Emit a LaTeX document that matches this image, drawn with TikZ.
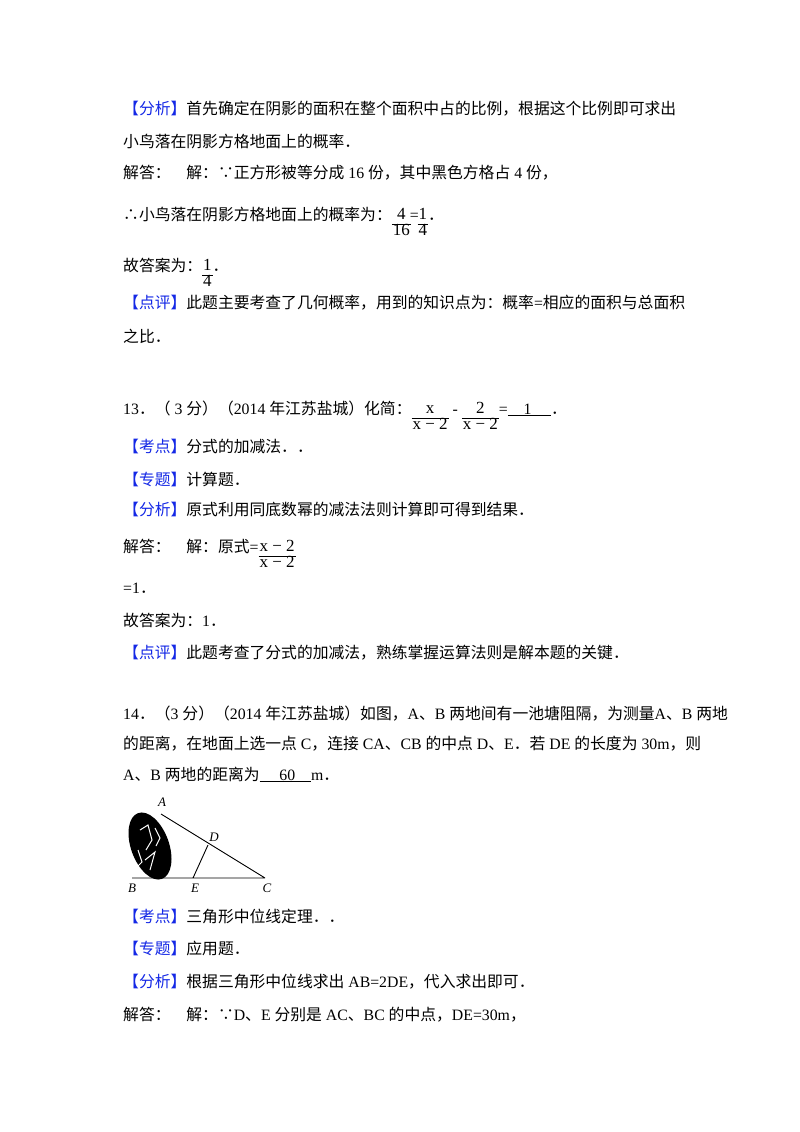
\documentclass[tikz,border=0pt]{standalone}
\usepackage{fontspec}
\setmainfont{Noto Sans CJK SC}
\newfontfamily\lat{Liberation Serif}
\definecolor{tagblue}{RGB}{20,40,230}
\newcommand{\tg}[1]{\textcolor{tagblue}{【#1】}}
\newcommand{\fr}[2]{\raisebox{-0.55em}{\fontsize{17}{18}\selectfont\lat\setlength{\tabcolsep}{1pt}\renewcommand{\arraystretch}{0.9}\begin{tabular}{c}#1\\\hline #2\end{tabular}}}
\begin{document}
\begin{tikzpicture}[x=1pt,y=-1pt,
  ln/.style={anchor=base west,inner sep=0pt,font=\fontsize{15.8}{16}\selectfont},
  lbl/.style={font=\lat\itshape\fontsize{13}{13}\selectfont,inner sep=0pt}]
\useasboundingbox[fill=white] (0,0) rectangle (800,1132);
\node[ln] (l1) at (123,114) {\tg{分析}首先确定在阴影的面积在整个面积中占的比例，根据这个比例即可求出};
\node[ln] (l2) at (123,147) {小鸟落在阴影方格地面上的概率．};
\node[ln] (l3) at (123,178) {解答：\quad 解：∵正方形被等分成{\lat\ 16 }份，其中黑色方格占{\lat\ 4 }份，};
\node[ln] (l4) at (123,220) {∴小鸟落在阴影方格地面上的概率为：\fr{4}{16}\hspace{-1pt}{\lat =}\hspace{-1pt}\fr{1}{4}．};
\node[ln] (l5) at (123,271) {故答案为：\fr{1}{4}．};
\node[ln] (l6) at (123,308) {\tg{点评}此题主要考查了几何概率，用到的知识点为：概率{\lat =}相应的面积与总面积};
\node[ln] (l7) at (123,342) {之比．};
\node[ln] (l8) at (123,414) {{\lat 13}．（{\lat\ 3 }分）（{\lat 2014 }年江苏盐城）化简：\fr{x}{x − 2}{\lat\ - }\fr{2}{x − 2}{\lat =}\underline{\lat\ \ \ \ 1\ \ \ \ \ }．};
\node[ln] (l9) at (123,452) {\tg{考点}分式的加减法．．};
\node[ln] (l10) at (123,485) {\tg{专题}计算题．};
\node[ln] (l11) at (123,515) {\tg{分析}原式利用同底数幂的减法法则计算即可得到结果．};
\node[ln] (l12) at (123,552) {解答：\quad 解：原式{\lat =}\fr{x − 2}{x − 2}};
\node[ln] (l13) at (123,593) {{\lat =1}．};
\node[ln] (l14) at (123,626) {故答案为：{\lat 1}．};
\node[ln] (l15) at (123,658) {\tg{点评}此题考查了分式的加减法，熟练掌握运算法则是解本题的关键．};
\node[ln] (l16) at (123,719) {{\lat 14}．（{\lat 3 }分）（{\lat 2014 }年江苏盐城）如图，{\lat A}、{\lat B }两地间有一池塘阻隔，为测量{\lat A}、{\lat B }两地};
\node[ln] (l17) at (123,749) {的距离，在地面上选一点{\lat\ C}，连接{\lat\ CA}、{\lat CB }的中点{\lat\ D}、{\lat E}．若{\lat\ DE }的长度为{\lat\ 30m}，则};
\node[ln] (l18) at (123,780) {{\lat A}、{\lat B }两地的距离为\underline{\lat\ \ \ \ \ 60\ \ \ \ }{\lat m}．};
\node[ln] (l19) at (123,922) {\tg{考点}三角形中位线定理．．};
\node[ln] (l20) at (123,954) {\tg{专题}应用题．};
\node[ln] (l21) at (123,987) {\tg{分析}根据三角形中位线求出{\lat\ AB=2DE}，代入求出即可．};
\node[ln] (l22) at (123,1020) {解答：\quad 解：∵{\lat D}、{\lat E }分别是{\lat\ AC}、{\lat BC }的中点，{\lat DE=30m}，};
% figure
\coordinate (A) at (161,814);
\coordinate (B) at (132,878);
\coordinate (C) at (265,878);
\coordinate (D) at (208,845);
\coordinate (E) at (193,878);
\fill[black,rotate around={20:(150,846)}] (150,846) ellipse (19 and 35);
\begin{scope}[white,line width=1pt]
\draw (140,830)--(148,825)--(152,840)--(146,850);
\draw (145,860)--(155,852)--(150,870);
\draw (138,850)--(142,862)--(136,868);
\draw (155,828)--(160,838)--(156,846);
\end{scope}
\draw[line width=0.9pt] (A)--(C) (B)--(C) (E)--(D);
\node[lbl] (lA) at (162,802) {A};
\node[lbl] (lB) at (132,888) {B};
\node[lbl] (lC) at (267,888) {C};
\node[lbl] (lD) at (214,837) {D};
\node[lbl] (lE) at (195,888) {E};
\end{tikzpicture}
\end{document}
